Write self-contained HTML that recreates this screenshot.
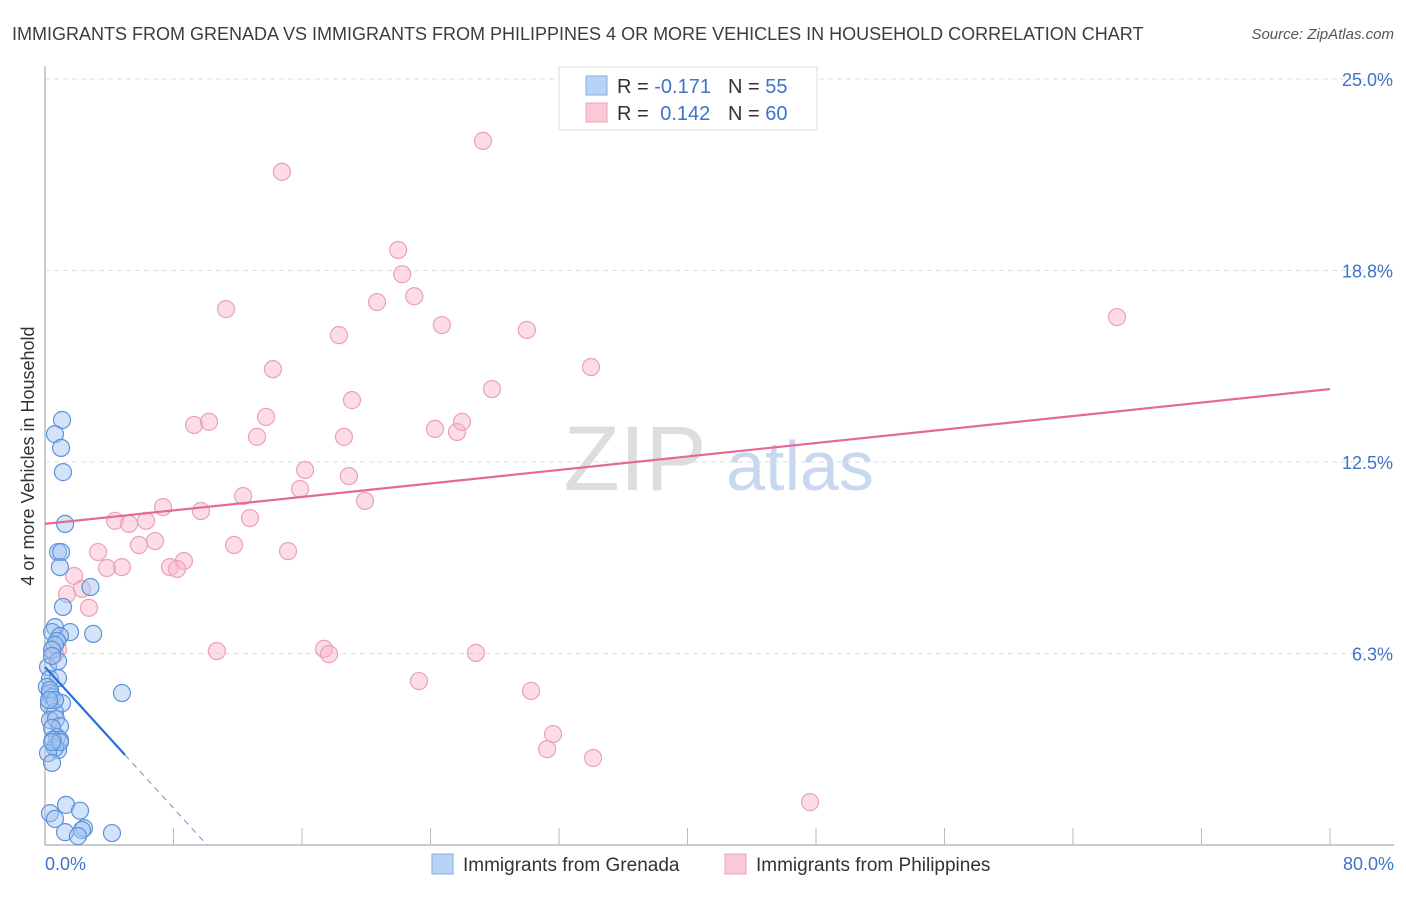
<!DOCTYPE html>
<html><head><meta charset="utf-8"><style>
body{margin:0;background:#fff;font-family:"Liberation Sans",sans-serif;}
svg text{font-family:"Liberation Sans",sans-serif;}
</style></head><body>
<svg id="chart" width="1406" height="892" xmlns="http://www.w3.org/2000/svg">
<text x="12" y="40" font-size="18" fill="#3c3c3c">IMMIGRANTS FROM GRENADA VS IMMIGRANTS FROM PHILIPPINES 4 OR MORE VEHICLES IN HOUSEHOLD CORRELATION CHART</text>
<text x="1394" y="39" font-size="15" fill="#555" font-style="italic" text-anchor="end">Source: ZipAtlas.com</text>
<text transform="translate(34,456) rotate(-90)" font-size="18" fill="#333" text-anchor="middle">4 or more Vehicles in Household</text>
<g>
<text x="635" y="490" font-size="92" fill="#ddd" font-family="Liberation Serif,serif" text-anchor="middle">ZIP</text>
<text x="800" y="490" font-size="70" fill="#c8d8ee" text-anchor="middle">atlas</text>
</g>
<g id="grid"></g><g id="axes"></g><g id="pts"></g><g id="trend"></g>
<g>
<rect x="559" y="67" width="258" height="63" fill="#fff" stroke="#ddd"/>
<rect x="586" y="76" width="21" height="19" fill="#b8d3f5" stroke="#86acde"/>
<rect x="586" y="103" width="21" height="19" fill="#fbc8d6" stroke="#eba3b8"/>
<text x="617" y="93" font-size="20" fill="#333">R = <tspan fill="#3d74c9">-0.171</tspan></text>
<text x="728" y="93" font-size="20" fill="#333">N = <tspan fill="#3d74c9">55</tspan></text>
<text x="617" y="120" font-size="20" fill="#333">R = <tspan fill="#3d74c9" dx="6">0.142</tspan></text>
<text x="728" y="120" font-size="20" fill="#333">N = <tspan fill="#3d74c9">60</tspan></text>
</g>
<g>
<rect x="432" y="854" width="21" height="20" fill="#b8d3f5" stroke="#86acde"/>
<text x="463" y="871" font-size="19" fill="#333">Immigrants from Grenada</text>
<rect x="725" y="854" width="21" height="20" fill="#fbc8d6" stroke="#eba3b8"/>
<text x="756" y="871" font-size="19" fill="#333">Immigrants from Philippines</text>
</g>
</svg>
<script>
const xTickLabels=["0.0%","80.0%"];
const yTickValues=[6.25,12.5,18.75,25];
const yTickLabels=["6.3%","12.5%","18.8%","25.0%"];
const grenadaX=[1.06,0.62,1.0,1.12,1.25,0.81,1.0,0.93,1.12,2.83,3.0,1.56,0.62,0.44,0.93,0.75,0.62,0.44,4.79,0.19,0.31,0.81,0.12,0.31,0.44,1.06,0.25,0.62,0.31,0.68,0.93,0.44,0.75,0.93,0.5,0.81,0.62,0.31,0.62,1.31,2.18,2.43,2.3,1.25,2.05,4.17,0.19,0.44,0.31,0.62,0.81,0.44,0.25,0.93,0.44];
const grenadaY=[13.87,13.41,12.96,12.17,10.48,9.56,9.56,9.07,7.77,8.42,6.89,6.95,7.11,6.95,6.82,6.66,6.53,6.37,4.96,5.81,5.42,5.45,5.16,4.96,4.83,4.63,4.57,4.34,4.08,4.11,3.88,3.82,3.52,3.43,3.43,3.1,3.17,1.04,0.85,1.31,1.12,0.55,0.49,0.42,0.29,0.39,3.0,2.68,5.06,4.73,6.0,6.17,4.73,3.36,3.36];
const philX=[27.27,14.75,21.99,22.24,22.99,11.27,20.67,18.3,24.71,30.0,33.99,14.19,27.83,19.11,13.76,9.28,10.21,13.2,18.61,24.28,25.65,25.96,16.19,18.92,15.88,12.33,19.92,7.35,9.71,4.36,5.23,6.29,12.76,6.85,5.85,3.3,11.77,15.13,8.65,3.86,4.79,7.78,8.22,1.81,2.3,1.37,2.74,10.7,17.37,17.68,26.83,23.28,30.26,31.63,31.26,34.12,47.63,66.74,0.81,0.62];
const philY=[22.98,21.97,19.42,18.63,17.91,17.49,17.72,16.64,16.97,16.81,15.6,15.53,14.88,14.52,13.97,13.71,13.81,13.32,13.32,13.58,13.48,13.81,12.24,12.04,11.62,11.39,11.23,11.03,10.9,10.58,10.48,10.58,10.67,9.92,9.79,9.56,9.79,9.59,9.27,9.04,9.07,9.07,9.01,8.78,8.36,8.19,7.74,6.33,6.4,6.23,6.27,5.35,5.03,3.62,3.13,2.84,1.40,17.23,6.4,6.23];
const philTrend=[10.48,14.88];
const grenadaTrend=[5.81,-0.576]; // intercept, slope
const X0=45,X1=1330,Y0=845,PY=30.64;
const sx=v=>X0+v/80*(X1-X0), sy=v=>Y0-v*PY;
const NS="http://www.w3.org/2000/svg";
function mk(tag,attrs,parent){const e=document.createElementNS(NS,tag);for(const k in attrs)e.setAttribute(k,attrs[k]);document.getElementById(parent).appendChild(e);return e;}
yTickValues.forEach((v,i)=>{
 const l=mk('line',{x1:X0,x2:1394,y1:sy(v),y2:sy(v),stroke:'#ddd','stroke-dasharray':'5,4'},'grid');
 
 
 const t=mk('text',{x:1393,y:sy(v)+7,'font-size':18,fill:'#3d74c9','text-anchor':'end'},'grid');
 
 
 t.textContent=yTickLabels[i];
});
const ax=mk('line',{x1:X0,x2:1394,y1:Y0,y2:Y0,stroke:'#bbb','stroke-width':1.5},'axes');


const ay=mk('line',{x1:X0,x2:X0,y1:66,y2:Y0,stroke:'#bbb','stroke-width':1.5},'axes');


for(let i=0;i<=10;i++){const x=sx(i*8);
 const tk=mk('line',{x1:x,x2:x,y1:828,y2:Y0,stroke:'#bbb'},'axes');
 
 }
[[0,'start'],[80,'end']].forEach(([v,a],i)=>{
 const t=mk('text',{x:v?1394:45,y:870,'font-size':18,fill:'#3d74c9','text-anchor':a},'axes');
 
 
 t.textContent=xTickLabels[i];});
philX.forEach((v,i)=>{
 const c=mk('circle',{cx:sx(v),cy:sy(philY[i]),r:8.5,fill:'rgba(248,180,200,0.45)',stroke:'#eca0b6','stroke-width':1.2},'pts');
 
 });
grenadaX.forEach((v,i)=>{
 const c=mk('circle',{cx:sx(v),cy:sy(grenadaY[i]),r:8.5,fill:'rgba(160,196,240,0.45)',stroke:'#5d92dc','stroke-width':1.2},'pts');
 
 });
const pl=mk('line',{x1:sx(0),y1:sy(philTrend[0]),x2:sx(80),y2:sy(philTrend[1]),stroke:'#e56a93','stroke-width':2.2},'trend');


const bEnd=4.98, bZero=-grenadaTrend[0]/grenadaTrend[1];
const bl=mk('line',{x1:sx(0),y1:sy(grenadaTrend[0]),x2:sx(bEnd),y2:sy(grenadaTrend[0]+grenadaTrend[1]*bEnd),stroke:'#2b6fd6','stroke-width':2.2},'trend');


const bd=mk('line',{x1:sx(bEnd),y1:sy(grenadaTrend[0]+grenadaTrend[1]*bEnd),x2:sx(bZero),y2:sy(0),stroke:'#6a93cf','stroke-width':1,'stroke-dasharray':'6,5'},'trend');


</script>
</body></html>
